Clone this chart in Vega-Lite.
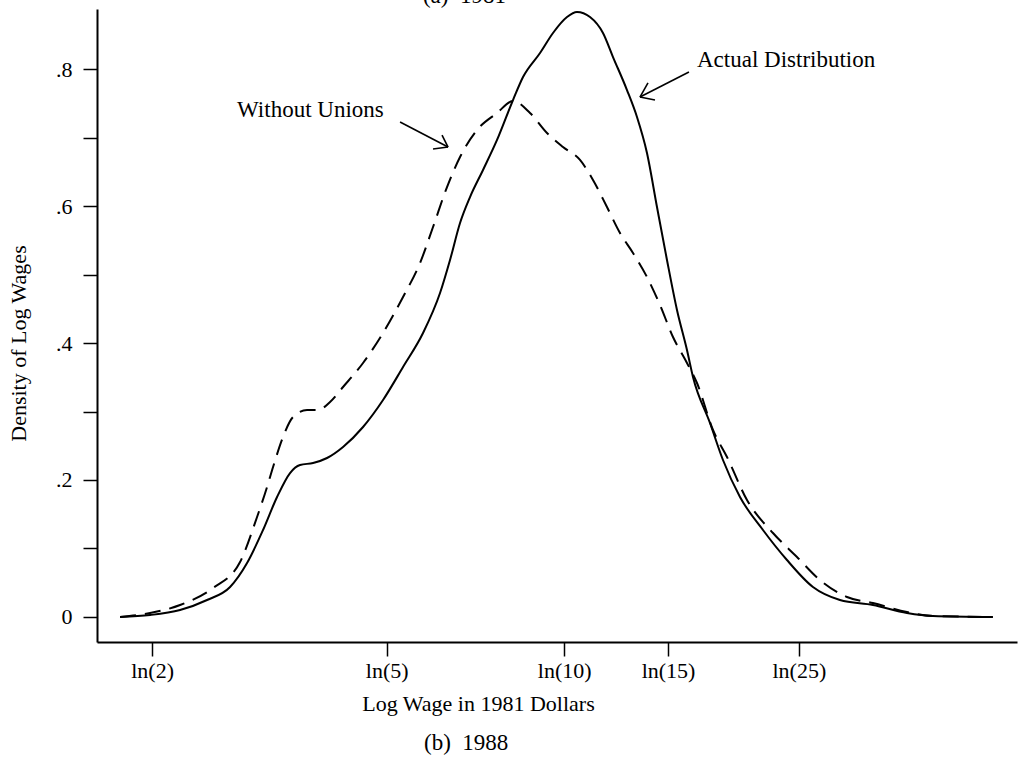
{
  "$schema": "https://vega.github.io/schema/vega-lite/v6.json",
  "width": 920,
  "height": 633,
  "autosize": {"type": "none"},
  "padding": {"left": 97, "top": 9, "right": 8, "bottom": 117},
  "background": "white",
  "title": {"text": "(b)\u00a0 1988", "orient": "bottom", "anchor": "start", "frame": "group", "dx": 327, "offset": 18, "font": "Liberation Serif", "fontSize": 23, "fontWeight": "normal", "color": "black"},
  "config": {
    "view": {"stroke": null},
    "axis": {
      "grid": false,
      "domainColor": "black",
      "domainWidth": 2,
      "tickColor": "black",
      "tickWidth": 1.5,
      "tickSize": 14,
      "labelFont": "Liberation Serif",
      "labelFontSize": 22,
      "labelColor": "black",
      "titleFont": "Liberation Serif",
      "titleFontSize": 22,
      "titleFontWeight": "normal",
      "titleColor": "black"
    },
    "text": {"font": "Liberation Serif", "fontSize": 23, "color": "black"}
  },
  "datasets": {
    "actual": [
      {"x": 0.5681, "y": 0.0}, {"x": 0.6853, "y": 0.0029}, {"x": 0.8024, "y": 0.0102}, {"x": 0.9078, "y": 0.0248},
      {"x": 0.9977, "y": 0.0438}, {"x": 1.064, "y": 0.0788}, {"x": 1.1265, "y": 0.127}, {"x": 1.1812, "y": 0.1752},
      {"x": 1.2319, "y": 0.2102}, {"x": 1.271, "y": 0.2219}, {"x": 1.3218, "y": 0.2248}, {"x": 1.3764, "y": 0.2321},
      {"x": 1.4389, "y": 0.2482}, {"x": 1.517, "y": 0.2774}, {"x": 1.5951, "y": 0.3168}, {"x": 1.6732, "y": 0.365},
      {"x": 1.7513, "y": 0.4146}, {"x": 1.8177, "y": 0.473}, {"x": 1.8567, "y": 0.5212}, {"x": 1.8958, "y": 0.5752},
      {"x": 1.9348, "y": 0.6131}, {"x": 1.9856, "y": 0.6526}, {"x": 2.0403, "y": 0.6964}, {"x": 2.1027, "y": 0.7547},
      {"x": 2.1418, "y": 0.7883}, {"x": 2.2082, "y": 0.8234}, {"x": 2.2589, "y": 0.8526}, {"x": 2.3136, "y": 0.8759},
      {"x": 2.3526, "y": 0.8832}, {"x": 2.4034, "y": 0.8759}, {"x": 2.4541, "y": 0.8526}, {"x": 2.4932, "y": 0.8175},
      {"x": 2.5478, "y": 0.7693}, {"x": 2.5869, "y": 0.7299}, {"x": 2.6259, "y": 0.6774}, {"x": 2.665, "y": 0.5985},
      {"x": 2.704, "y": 0.5212}, {"x": 2.7431, "y": 0.4482}, {"x": 2.7821, "y": 0.3898}, {"x": 2.8056, "y": 0.3504},
      {"x": 2.872, "y": 0.2832}, {"x": 2.9227, "y": 0.2292}, {"x": 2.9891, "y": 0.1752}, {"x": 3.0789, "y": 0.127},
      {"x": 3.1726, "y": 0.0832}, {"x": 3.2741, "y": 0.0438}, {"x": 3.3796, "y": 0.0248}, {"x": 3.5084, "y": 0.0175},
      {"x": 3.6412, "y": 0.0058}, {"x": 3.7427, "y": 0.0015}, {"x": 3.977, "y": 0.0}
    ],
    "nounion": [
      {"x": 0.5681, "y": 0.0}, {"x": 0.6853, "y": 0.0058}, {"x": 0.8024, "y": 0.0175}, {"x": 0.9313, "y": 0.0423},
      {"x": 1.0367, "y": 0.0803}, {"x": 1.1031, "y": 0.146}, {"x": 1.1421, "y": 0.1898}, {"x": 1.1656, "y": 0.219},
      {"x": 1.2046, "y": 0.2628}, {"x": 1.2436, "y": 0.292}, {"x": 1.2983, "y": 0.3022}, {"x": 1.3413, "y": 0.3022},
      {"x": 1.3881, "y": 0.3139}, {"x": 1.4389, "y": 0.3358}, {"x": 1.517, "y": 0.3708}, {"x": 1.5951, "y": 0.4146},
      {"x": 1.6732, "y": 0.4672}, {"x": 1.7396, "y": 0.5168}, {"x": 1.7903, "y": 0.5693}, {"x": 1.845, "y": 0.6277},
      {"x": 1.8958, "y": 0.6715}, {"x": 1.9621, "y": 0.7109}, {"x": 2.0403, "y": 0.7358}, {"x": 2.1027, "y": 0.7533},
      {"x": 2.1691, "y": 0.7358}, {"x": 2.2355, "y": 0.7066}, {"x": 2.2979, "y": 0.6861}, {"x": 2.3643, "y": 0.6672},
      {"x": 2.4151, "y": 0.638}, {"x": 2.4697, "y": 0.5985}, {"x": 2.5205, "y": 0.5606}, {"x": 2.5713, "y": 0.5314},
      {"x": 2.6259, "y": 0.4964}, {"x": 2.6767, "y": 0.4555}, {"x": 2.7275, "y": 0.4088}, {"x": 2.7821, "y": 0.3708},
      {"x": 2.8212, "y": 0.3416}, {"x": 2.8837, "y": 0.273}, {"x": 2.9384, "y": 0.2336}, {"x": 3.0165, "y": 0.1708},
      {"x": 3.118, "y": 0.1226}, {"x": 3.2117, "y": 0.0876}, {"x": 3.3015, "y": 0.054}, {"x": 3.407, "y": 0.0292},
      {"x": 3.5084, "y": 0.0204}, {"x": 3.6412, "y": 0.0073}, {"x": 3.7427, "y": 0.0015}, {"x": 3.977, "y": 0.0}
    ],
    "arrows": [
      {"x": 1.6615, "y": 0.7226, "x2": 1.8489, "y2": 0.6861},
      {"x": 1.7903, "y": 0.6832, "x2": 1.8489, "y2": 0.6861},
      {"x": 1.8255, "y": 0.7036, "x2": 1.8489, "y2": 0.6861},
      {"x": 2.7899, "y": 0.7956, "x2": 2.5986, "y2": 0.7591},
      {"x": 2.6572, "y": 0.7547, "x2": 2.5986, "y2": 0.7591},
      {"x": 2.6298, "y": 0.7796, "x2": 2.5986, "y2": 0.7591}
    ],
    "notes": [
      {"x": 1.025, "y": 0.7299, "label": "Without Unions"},
      {"x": 2.8212, "y": 0.8029, "label": "Actual Distribution"},
      {"x": 1.751, "y": 0.8964, "label": "(a)\u00a0 1981"}
    ]
  },
  "layer": [
    {
      "data": {"name": "actual"},
      "mark": {"type": "line", "color": "black", "strokeWidth": 2, "interpolate": "monotone"},
      "encoding": {
        "x": {
          "field": "x", "type": "quantitative",
          "scale": {"domain": [0.478, 4.071], "nice": false, "zero": false},
          "axis": {
            "title": "Log Wage in 1981 Dollars",
            "values": [0.6931, 1.6094, 2.3026, 2.7081, 3.2189],
            "labelExpr": "datum.value < 1 ? 'ln(2)' : datum.value < 2 ? 'ln(5)' : datum.value < 2.5 ? 'ln(10)' : datum.value < 3 ? 'ln(15)' : 'ln(25)'",
            "labelPadding": 4,
            "titleX": 381,
            "titleY": 68,
            "titleBaseline": "alphabetic",
            "titleAnchor": "middle",
            "titleAlign": "center"
          }
        },
        "y": {
          "field": "y", "type": "quantitative",
          "scale": {"domain": [-0.0365, 0.8876], "nice": false, "zero": false},
          "axis": {
            "title": "Density of Log Wages",
            "values": [0, 0.1, 0.2, 0.3, 0.4, 0.5, 0.6, 0.7, 0.8],
            "labelExpr": "datum.value < 0.05 ? '0' : (abs(datum.value*10 - 2*round(datum.value*5)) < 0.01 ? '.' + round(datum.value*10) : '')",
            "labelPadding": 11,
            "titleX": -72,
            "titleY": 334,
            "titleAngle": -90,
            "titleBaseline": "alphabetic",
            "titleAlign": "center"
          }
        }
      }
    },
    {
      "data": {"name": "nounion"},
      "mark": {"type": "line", "color": "black", "strokeWidth": 2, "strokeDash": [16, 9], "interpolate": "monotone"},
      "encoding": {
        "x": {"field": "x", "type": "quantitative"},
        "y": {"field": "y", "type": "quantitative"}
      }
    },
    {
      "data": {"name": "arrows"},
      "mark": {"type": "rule", "color": "black", "strokeWidth": 1.6},
      "encoding": {
        "x": {"field": "x", "type": "quantitative"},
        "y": {"field": "y", "type": "quantitative"},
        "x2": {"field": "x2"},
        "y2": {"field": "y2"}
      }
    },
    {
      "data": {"name": "notes"},
      "mark": {"type": "text", "align": "left", "baseline": "alphabetic"},
      "encoding": {
        "x": {"field": "x", "type": "quantitative"},
        "y": {"field": "y", "type": "quantitative"},
        "text": {"field": "label"}
      }
    }
  ]
}
